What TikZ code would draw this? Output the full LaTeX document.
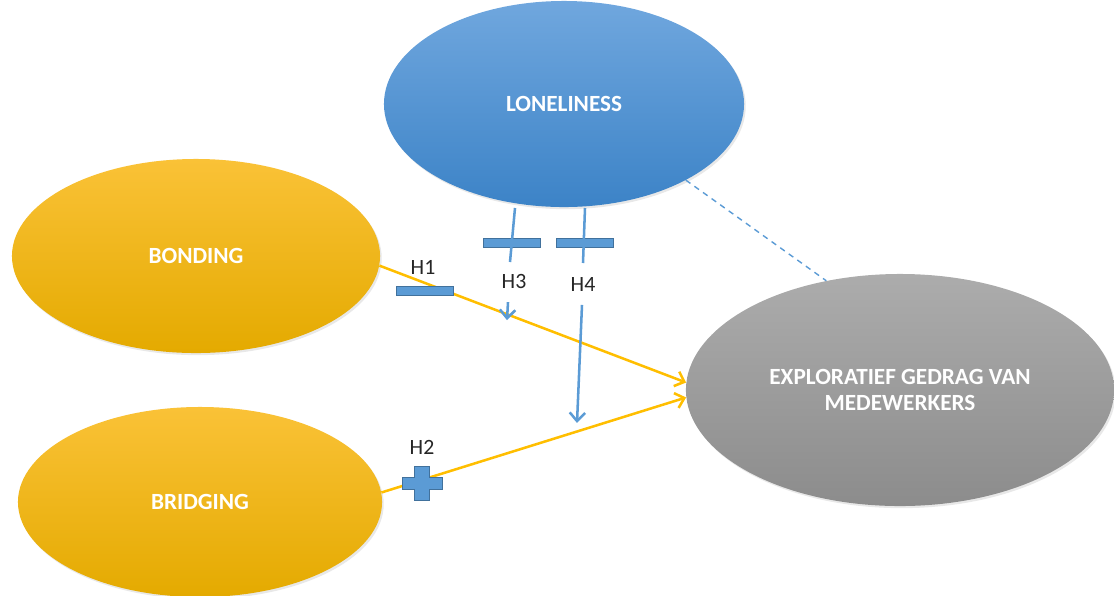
\documentclass[tikz,border=0pt]{standalone}
\usepackage{fontspec}
\setmainfont{Carlito}
\usetikzlibrary{shapes.geometric,arrows.meta,shadows}
\definecolor{blueTop}{RGB}{112,167,222}
\definecolor{blueBot}{RGB}{60,131,199}
\definecolor{goldTop}{RGB}{250,194,55}
\definecolor{goldBot}{RGB}{228,170,0}
\definecolor{grayTop}{RGB}{172,172,172}
\definecolor{grayBot}{RGB}{140,140,140}
\definecolor{gold}{RGB}{255,190,0}
\definecolor{markBlue}{RGB}{91,155,213}
\definecolor{markEdge}{RGB}{65,113,156}
\begin{document}
\begin{tikzpicture}[x=0.025cm, y=-0.025cm,
  concept/.style={ellipse, inner sep=0pt, text=white, align=center,
    font=\bfseries\fontsize{16.5}{18.5}\selectfont,
    drop shadow={opacity=0.18, shadow xshift=1.2pt, shadow yshift=-1.5pt}},
  hlabel/.style={font=\fontsize{15.5}{17}\selectfont, text=black!85},
  markbar/.style={rectangle, fill=markBlue, draw=markEdge, line width=0.4pt,
    minimum width=1.42cm, minimum height=0.23cm, inner sep=0pt},
  effect/.style={gold, line width=1.8pt, -{Straight Barb[length=6pt,width=11pt]}},
  moder/.style={markBlue, line width=1.8pt},
  moderarrow/.style={moder, -{Straight Barb[length=6pt,width=11pt]}}]
\useasboundingbox (0,0) rectangle (1114,595);

% Concepts
\node[concept, minimum width=9cm, minimum height=5.15cm, top color=blueTop, bottom color=blueBot] (loneliness) at (564,104) {LONELINESS};
\node[concept, minimum width=9.2cm, minimum height=4.85cm, top color=goldTop, bottom color=goldBot] (bonding) at (196,256) {BONDING};
\node[concept, minimum width=9.1cm, minimum height=4.75cm, top color=goldTop, bottom color=goldBot] (bridging) at (200,502) {BRIDGING};
\node[concept, minimum width=10.7cm, minimum height=5.8cm, top color=grayTop, bottom color=grayBot] (explor) at (900,390) {EXPLORATIEF GEDRAG VAN\\MEDEWERKERS};

% Direct effects
\draw[effect] (bonding.-3) -- (explor.178);
\draw[effect] (bridging.3) -- (explor.182);
\draw[markBlue, line width=1pt, dash pattern=on 4pt off 3.5pt] (loneliness.-32) -- (explor.124);

% Moderation stubs
\coordinate (h3top) at (515,208);
\coordinate (h3end) at (510,262);
\coordinate (h4top) at (585,208);
\coordinate (h4end) at (583,263);
\node[markbar] (h3bar) at (511.5,242.5) {};
\node[markbar] (h4bar) at (584.5,242.5) {};
\draw[moder] (h3top) -- (h3end);
\draw[moder] (h4top) -- (h4end);

% Signs
\node[markbar] (h1bar) at (425,290.5) {};
\coordinate (h2mark) at (422,483);
\draw[fill=markBlue, draw=markEdge, line width=0.4pt, shift={(h2mark)}]
  (-20,-6) -- (-7.5,-6) -- (-7.5,-17) -- (7.5,-17) -- (7.5,-6) -- (20,-6)
  -- (20,6) -- (7.5,6) -- (7.5,17) -- (-7.5,17) -- (-7.5,6) -- (-20,6) -- cycle;

% Labels
\node[hlabel] (h1) at (423,267) {H1};
\node[hlabel] (h2) at (422,447) {H2};
\node[hlabel] (h3) at (514,281) {H3};
\node[hlabel] (h4) at (583,284) {H4};

% Moderation arrows
\draw[moderarrow] (h3.south) ++(-6,9) coordinate (h3a) -- ++(-1,18);
\draw[moderarrow] (h4.south) ++(-1,9) coordinate (h4a) -- ++(-5,118);
\end{tikzpicture}
\end{document}
